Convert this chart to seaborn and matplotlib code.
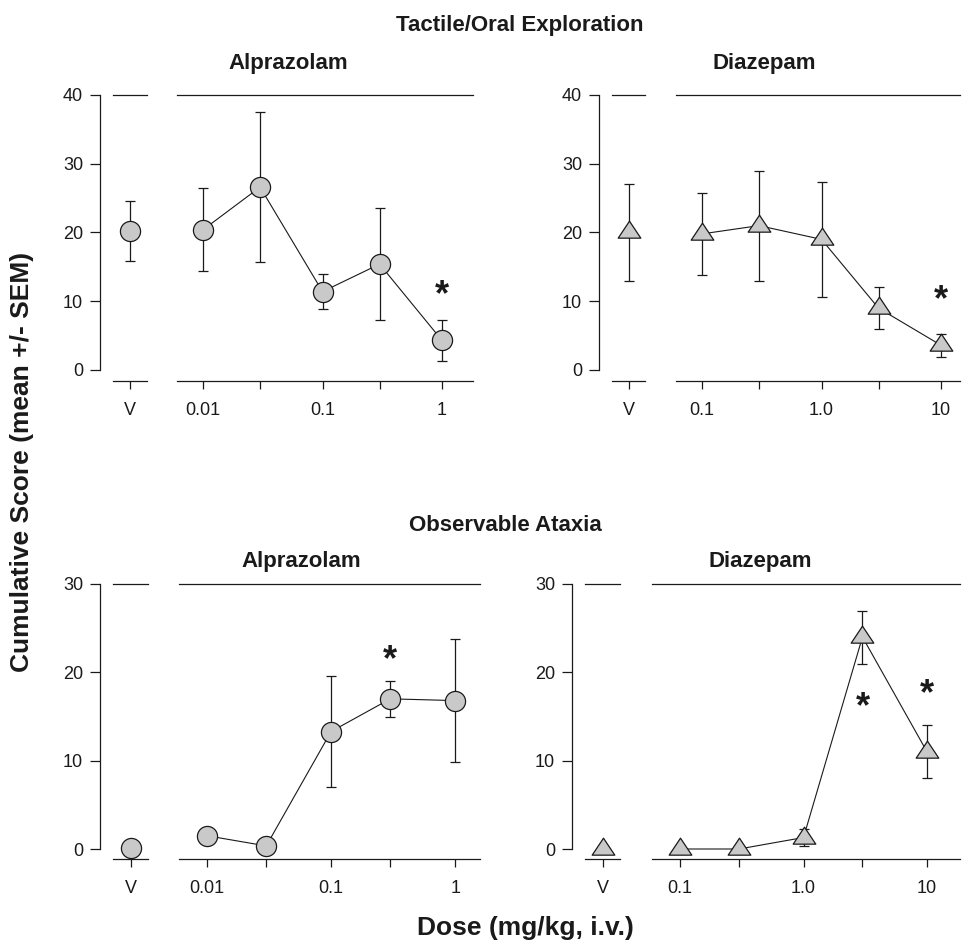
import matplotlib
matplotlib.use('Agg')
import matplotlib.pyplot as plt
from matplotlib.path import Path
import seaborn as sns

# doses (mg/kg, i.v.)
alp_doses = [0.01, 0.03, 0.1, 0.3, 1]
dzp_doses = [0.1, 0.3, 1, 3, 10]
alp_ticklabels = ['0.01', '', '0.1', '', '1']
dzp_ticklabels = ['0.1', '', '1.0', '', '10']

# Tactile/Oral Exploration, mean and SEM
tact_alp_veh = 20.2
tact_alp_veh_sem = 4.4
tact_alp_mean = [20.4, 26.6, 11.4, 15.4, 4.3]
tact_alp_sem = [6.0, 10.9, 2.5, 8.2, 3.0]
tact_dzp_veh = 20.0
tact_dzp_veh_sem = 7.0
tact_dzp_mean = [19.8, 21.0, 19.0, 9.0, 3.6]
tact_dzp_sem = [6.0, 8.0, 8.4, 3.0, 1.7]

# Observable Ataxia, mean and SEM
atax_alp_veh = 0.1
atax_alp_veh_sem = 0.0
atax_alp_mean = [1.5, 0.35, 13.3, 17.0, 16.8]
atax_alp_sem = [0.0, 0.0, 6.3, 2.0, 7.0]
atax_dzp_veh = 0.0
atax_dzp_veh_sem = 0.0
atax_dzp_mean = [0.0, 0.0, 1.3, 24.0, 11.0]
atax_dzp_sem = [0.0, 0.0, 1.0, 3.0, 3.0]

# significance stars (dose, y)
tact_alp_star_x, tact_alp_star_y = [1], [12.5]
tact_dzp_star_x, tact_dzp_star_y = [10], [11.8]
atax_alp_star_x, atax_alp_star_y = [0.3], [22.6]
atax_dzp_star_x, atax_dzp_star_y = [3, 10], [17.3, 18.7]

sns.set_style('ticks')
plt.rcParams['font.family'] = ['Liberation Sans', 'DejaVu Sans']

W, H = 963, 944
fig = plt.figure(figsize=(W / 100, H / 100), dpi=100)

INK = '#1a1a1a'
FILL = '#c9c9c9'
tri = Path([(0, 1), (-1, -0.5), (1, -0.5), (0, 1)], [1, 2, 2, 79])


def frame(x0, x1, ytop, ybot):
    return fig.add_axes([x0 / W, 1 - ybot / H, (x1 - x0) / W, (ybot - ytop) / H])


def style(ax, ymax, boff, left):
    ax.set_ylim(0, ymax)
    ax.set_facecolor('none')
    ax.spines['right'].set_visible(False)
    ax.spines['bottom'].set_position(('outward', boff))
    for s in ax.spines.values():
        s.set_linewidth(0.9)
        s.set_color(INK)
    ax.tick_params(axis='x', direction='out', length=6, width=0.9, color=INK,
                   labelsize=13, pad=9, labelcolor=INK)
    if left:
        ax.spines['left'].set_position(('outward', 9.5))
        ax.set_yticks(range(0, ymax + 1, 10))
        ax.tick_params(axis='y', direction='out', length=7, width=0.9, color=INK,
                       labelsize=13, pad=5, labelcolor=INK)
    else:
        ax.spines['left'].set_visible(False)
        ax.set_yticks([])
    ax.set_xlabel('')
    ax.set_ylabel('')


def draw_panel(vbox, dbox, ybox, ymax, boff, xlim,
               veh, veh_sem, doses, means, sems, ticklabels,
               marker, ms, star_x, star_y):
    ax_v = frame(vbox[0], vbox[1], ybox[0], ybox[1])
    ax_d = frame(dbox[0], dbox[1], ybox[0], ybox[1])

    # vehicle
    ax_v.set_xlim(-1, 1)
    ax_v.errorbar([0], [veh], yerr=[veh_sem], fmt='none', ecolor=INK,
                  elinewidth=0.9, capsize=3.8, capthick=0.9, zorder=2, clip_on=False)
    sns.lineplot(x=[0], y=[veh], ax=ax_v, color=INK, marker=marker, markersize=ms,
                 markerfacecolor=FILL, markeredgecolor=INK, markeredgewidth=0.9,
                 errorbar=None, zorder=3, clip_on=False)
    ax_v.set_xticks([0])
    ax_v.set_xticklabels(['V'])
    style(ax_v, ymax, boff, True)

    # doses
    ax_d.set_xscale('log')
    ax_d.errorbar(doses, means, yerr=sems, fmt='none', ecolor=INK,
                  elinewidth=0.9, capsize=3.8, capthick=0.9, zorder=2, clip_on=False)
    sns.lineplot(x=doses, y=means, ax=ax_d, color=INK, lw=0.8, marker=marker,
                 markersize=ms, markerfacecolor=FILL, markeredgecolor=INK,
                 markeredgewidth=0.9, errorbar=None, zorder=3, clip_on=False)
    ax_d.set_xlim(*xlim)
    ax_d.set_xticks(doses)
    ax_d.set_xticklabels(ticklabels)
    ax_d.minorticks_off()
    style(ax_d, ymax, boff, False)

    for sx, sy in zip(star_x, star_y):
        ax_d.annotate('*', (sx, sy), xytext=(0, -15), textcoords='offset points',
                      ha='center', va='baseline', fontsize=26, fontweight='bold',
                      color=INK, annotation_clip=False)


draw_panel((113, 147), (177, 473), (95, 370), 40, 8, (10 ** -2.218, 10 ** 0.259),
           tact_alp_veh, tact_alp_veh_sem, alp_doses, tact_alp_mean, tact_alp_sem,
           alp_ticklabels, 'o', 14.5, tact_alp_star_x, tact_alp_star_y)
draw_panel((612, 645), (676, 960), (95, 370), 40, 8, (10 ** -1.218, 10 ** 1.159),
           tact_dzp_veh, tact_dzp_veh_sem, dzp_doses, tact_dzp_mean, tact_dzp_sem,
           dzp_ticklabels, tri, 16.3, tact_dzp_star_x, tact_dzp_star_y)
draw_panel((113, 148), (179, 480), (584, 849), 30, 7.5, (10 ** -2.226, 10 ** 0.2),
           atax_alp_veh, atax_alp_veh_sem, alp_doses, atax_alp_mean, atax_alp_sem,
           alp_ticklabels, 'o', 14.5, atax_alp_star_x, atax_alp_star_y)
draw_panel((585, 620), (652, 960), (584, 849), 30, 7.5, (10 ** -1.227, 10 ** 1.267),
           atax_dzp_veh, atax_dzp_veh_sem, dzp_doses, atax_dzp_mean, atax_dzp_sem,
           dzp_ticklabels, tri, 16.3, atax_dzp_star_x, atax_dzp_star_y)


def label(x, y, s, size, **kw):
    fig.text(x / W, 1 - y / H, s, fontsize=size, fontweight='bold', color=INK,
             ha='center', **kw)


label(520, 31, 'Tactile/Oral Exploration', 16, va='baseline')
label(288, 69, 'Alprazolam', 16, va='baseline')
label(764, 69, 'Diazepam', 16, va='baseline')
label(505, 531, 'Observable Ataxia', 16, va='baseline')
label(301, 567, 'Alprazolam', 16, va='baseline')
label(760, 567, 'Diazepam', 16, va='baseline')
label(525, 935, 'Dose (mg/kg, i.v.)', 19, va='baseline')
label(22, 462, 'Cumulative Score (mean +/- SEM)', 19, va='center', rotation=90)

fig.savefig('out.png', dpi=100)
